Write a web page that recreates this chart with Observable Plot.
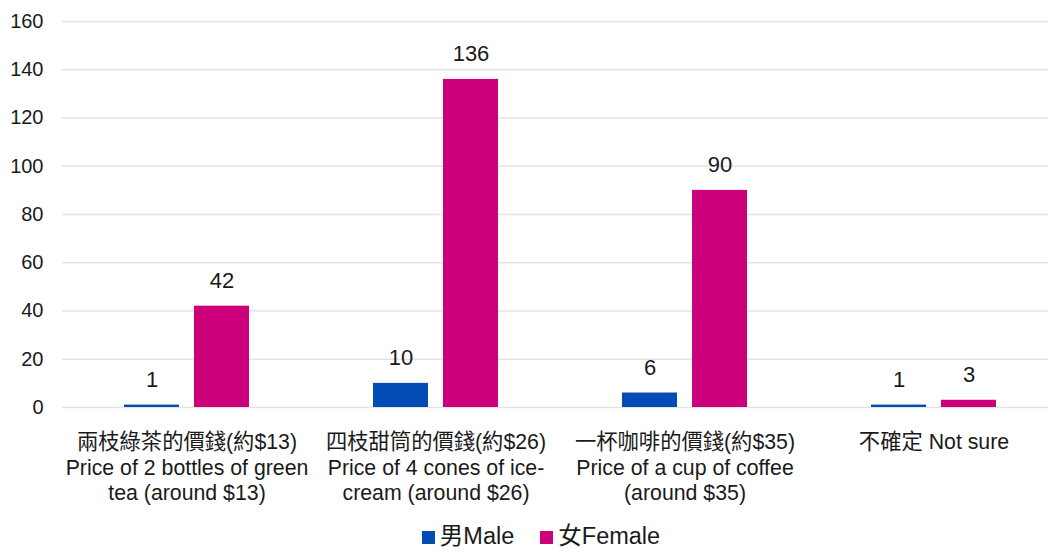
<!DOCTYPE html>
<html><head><meta charset="utf-8">
<script src="https://cdn.jsdelivr.net/npm/d3@7"></script>
<script src="https://cdn.jsdelivr.net/npm/@observablehq/plot@0.6"></script>
<style>
html,body{margin:0;padding:0;background:#fff;overflow:hidden;}
body{font-family:"Liberation Sans",Arial,"Noto Sans CJK TC",sans-serif;}
#chart svg{display:block}
#legend{display:flex;justify-content:center;align-items:center;height:28px;padding-left:34px;padding-top:16px;font-size:23.5px;line-height:1;color:#1a1a1a;gap:26px}
.item{display:flex;align-items:center}
.sw{display:inline-block;width:13px;height:13px;margin-right:5px}
</style></head><body><div id="chart"></div><div id="legend"></div>
<script>
const categories = [
  "兩枝綠茶的價錢(約$13)\nPrice of 2 bottles of green\ntea (around $13)",
  "四枝甜筒的價錢(約$26)\nPrice of 4 cones of ice-\ncream (around $26)",
  "一杯咖啡的價錢(約$35)\nPrice of a cup of coffee\n(around $35)",
  "不確定 Not sure"
];
const genders = ["男Male", "女Female"];
const maleValues = [1, 10, 6, 1];
const femaleValues = [42, 136, 90, 3];
const colors = ["#044cb5", "#cc007a"];
const yTicks = [0, 20, 40, 60, 80, 100, 120, 140, 160];

const rows = [];
categories.forEach((c, i) => {
  rows.push({category: c, gender: genders[0], value: maleValues[i]});
  rows.push({category: c, gender: genders[1], value: femaleValues[i]});
});

const font = '"Liberation Sans", Arial, "Noto Sans CJK TC", sans-serif';
const chart = Plot.plot({
  width: 1048, height: 507,
  marginLeft: 62, marginRight: -10, marginTop: 21, marginBottom: 100,
  style: {fontFamily: font, fontSize: "20px", color: "#1a1a1a", background: "#fff", overflow: "visible"},
  fx: {domain: categories, padding: 0, label: null, axis: null},
  x: {domain: genders, paddingInner: 0.21, paddingOuter: 0.86, axis: null},
  y: {domain: [0, 160]},
  color: {domain: genders, range: colors},
  marks: [
    Plot.gridY(yTicks, {stroke: "#e3e3e3", strokeOpacity: 1, strokeWidth: 1.3}),
    Plot.axisY(yTicks, {tickSize: 0, tickPadding: 19, fontSize: 20, label: null}),
    Plot.axisFx({anchor: "bottom", tickSize: 0, tickPadding: 23, fontSize: 21.3, lineHeight: 1.21, label: null}),
    Plot.barY(rows, {fx: "category", x: "gender", y: "value", fill: "gender"}),
    Plot.text(rows, {fx: "category", x: "gender", y: "value", text: d => String(d.value), dy: -25, fontSize: 22})
  ]
});
document.getElementById("chart").appendChild(chart);

const legend = document.getElementById("legend");
genders.forEach((g, i) => {
  const item = document.createElement("span");
  item.className = "item";
  const sw = document.createElement("span");
  sw.className = "sw";
  sw.style.background = colors[i];
  item.appendChild(sw);
  item.appendChild(document.createTextNode(g));
  legend.appendChild(item);
});
</script>
</body></html>
